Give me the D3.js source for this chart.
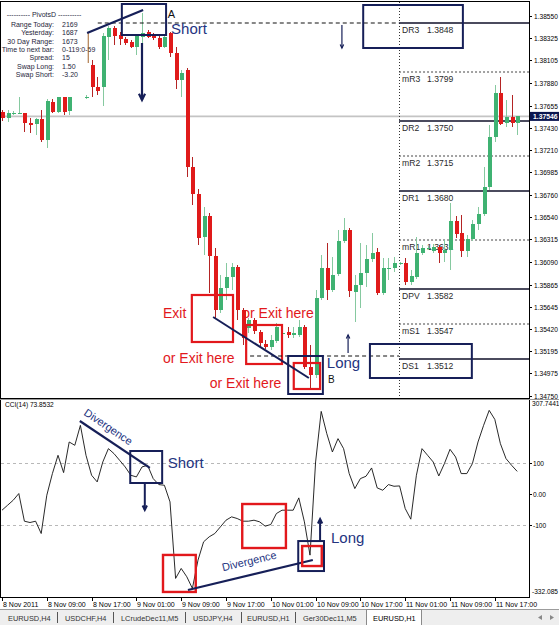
<!DOCTYPE html>
<html>
<head>
<meta charset="utf-8">
<script src="https://cdn.jsdelivr.net/npm/d3@7/dist/d3.min.js"></script>
<style>
  body { margin: 0; background: #fff; }
  svg { display: block; font-family: "Liberation Sans", Arial, sans-serif; }
</style>
</head>
<body>
<div id="chart"></div>
<script>
// EURUSD H1, one row per bar: [open, high, low, close]; null = bar not visible
const ohlc = [
  [1.3759,1.3761,1.3750,1.3753],[1.3753,1.3761,1.3749,1.3758],[1.3758,1.3760,1.3756,1.3758],
  [1.3758,1.3774,1.3757,1.3758],[1.3758,1.3758,1.3739,1.3748],[1.3748,1.3753,1.3738,1.3746],
  [1.3747,1.3753,1.3736,1.3752],[1.3752,1.3761,1.3729,1.3731],[1.3731,1.3772,1.3723,1.3770],
  [1.3769,1.3772,1.3758,1.3759],[1.3759,1.3774,1.3758,1.3774],[1.3774,1.3774,1.3756,1.3759],
  [1.3760,1.3774,1.3756,1.3774],null,null,
  [1.3774,1.3776,1.3772,1.3774],[1.3806,1.3811,1.3774,1.3784],[1.3784,1.3794,1.3776,1.3780],
  [1.3784,1.3838,1.3765,1.3835],[1.3834,1.3845,1.3811,1.3843],[1.3843,1.3845,1.3826,1.3835],
  [1.3836,1.3839,1.3826,1.3832],[1.3832,1.3834,1.3826,1.3828],[1.3829,1.3831,1.3823,1.3824],
  [1.3824,1.3837,1.3816,1.3835],[1.3834,1.3858,1.3828,1.3838],[1.3839,1.3841,1.3833,1.3834],
  [1.3837,1.3838,1.3831,1.3833],[1.3833,1.3835,1.3822,1.3824],[1.3824,1.3836,1.3823,1.3834],
  [1.3838,1.3839,1.3814,1.3818],[1.3818,1.3824,1.3782,1.3791],[1.3791,1.3801,1.3774,1.3798],
  [1.3801,1.3803,1.3694,1.3704],[1.3704,1.3714,1.3666,1.3677],[1.3677,1.3682,1.3626,1.3633],
  [1.3634,1.3664,1.3616,1.3655],[1.3655,1.3658,1.3578,1.3615],[1.3615,1.3623,1.3553,1.3561],
  [1.3561,1.3596,1.3558,1.3583],[1.3583,1.3608,1.3571,1.3594],[1.3594,1.3608,1.3581,1.3604],
  [1.3604,1.3606,1.3551,1.3561],[1.3561,1.3563,1.3526,1.3533],[1.3543,1.3553,1.3538,1.3551],
  [1.3551,1.3553,1.3537,1.3540],[1.3539,1.3541,1.3525,1.3528],[1.3527,1.3531,1.3522,1.3524],
  [1.3524,1.3536,1.3521,1.3531],[1.3530,1.3548,1.3528,1.3544],[1.3538,1.3541,1.3535,1.3538],
  [1.3539,1.3544,1.3533,1.3536],[1.3536,1.3544,1.3533,1.3538],[1.3536,1.3551,1.3534,1.3544],
  [1.3544,1.3546,1.3502,1.3504],[1.3504,1.3526,1.3483,1.3496],[1.3496,1.3581,1.3493,1.3573],
  [1.3573,1.3616,1.3571,1.3603],[1.3603,1.3628,1.3571,1.3581],[1.3581,1.3614,1.3579,1.3596],
  [1.3597,1.3641,1.3595,1.3630],[1.3630,1.3653,1.3628,1.3641],[1.3641,1.3643,1.3574,1.3580],
  [1.3579,1.3596,1.3549,1.3586],[1.3586,1.3628,1.3563,1.3598],[1.3598,1.3626,1.3584,1.3612],
  [1.3612,1.3638,1.3609,1.3618],[1.3619,1.3623,1.3576,1.3578],[1.3578,1.3613,1.3576,1.3603],
  [1.3603,1.3613,1.3591,1.3603],[1.3603,1.3614,1.3599,1.3608],[1.3608,1.3609,1.3606,1.3608],
  [1.3608,1.3613,1.3586,1.3589],[1.3589,1.3601,1.3586,1.3595],[1.3594,1.3634,1.3592,1.3618],
  [1.3618,1.3626,1.3616,1.3623],[1.3623,1.3625,1.3621,1.3623],[1.3620,1.3627,1.3618,1.3624],
  [1.3624,1.3626,1.3608,1.3618],[1.3618,1.3631,1.3609,1.3621],[1.3621,1.3668,1.3601,1.3650],
  [1.3650,1.3655,1.3633,1.3637],[1.3638,1.3656,1.3614,1.3620],[1.3620,1.3636,1.3614,1.3632],
  [1.3632,1.3651,1.3630,1.3647],[1.3647,1.3664,1.3641,1.3657],[1.3657,1.3704,1.3655,1.3684],
  [1.3684,1.3746,1.3681,1.3734],[1.3734,1.3786,1.3729,1.3778],[1.3778,1.3794,1.3746,1.3747],
  [1.3748,1.3771,1.3744,1.3754],[1.3754,1.3776,1.3744,1.3748],[1.3748,1.37555,1.3736,1.37546]
];

// CCI(14), one value per bar
const cci = [
  -51.6,-35.5,-19.4,2.2,-87.1,-91.4,-87.1,-126.9,-3.2,66.7,
  125.8,69.9,168.8,158.1,222.6,125.8,61.3,39.8,104.3,147.3,
  131.2,109.7,88.2,61.3,55.9,88.2,93.5,50.5,31.2,29.0,
  -24.7,-272,-239.8,-266.7,-304.3,-212.9,-153.8,-137.6,-126.9,-105.4,
  -83.9,-73.1,-78.5,-87.1,-87.1,-83.9,-89.2,-103.2,-97.8,-62.4,
  -51.6,-51.6,-51.6,-11.8,-89.2,-196.8,104.3,267.7,195.7,136.6,
  179.6,147.3,66.7,18.3,50.5,58.1,84.9,20.4,12.9,31.2,
  25.8,26.9,-46.2,-80.6,61.3,147.3,125.8,104.3,59.1,98.9,
  145.2,120.4,66.7,66.7,98.9,168.8,222.6,271,241.9,163.4,
  115.1,93.5,73.8532
];

const timeLabels = ["8 Nov 2011","8 Nov 09:00","8 Nov 17:00","9 Nov 01:00","9 Nov 09:00","9 Nov 17:00",
  "10 Nov 01:00","10 Nov 09:00","10 Nov 17:00","11 Nov 01:00","11 Nov 09:00","11 Nov 17:00"];
const priceTicks = ["1.38550","1.38325","1.38105","1.37880","1.37655","1.37430","1.37210","1.36985","1.36760",
  "1.36540","1.36315","1.36090","1.35865","1.35645","1.35420","1.35195","1.34975","1.34750"];
const cciTicks = ["100","0.00","-100"];
const cciRange = [-332.085, 307.7441];
const lastPrice = 1.37546;

const pivotNames = ["DR3","mR3","DR2","mR2","DR1","mR1","DPV","mS1","DS1"];
const pivotValues = [1.3848,1.3799,1.3750,1.3715,1.3680,1.3631,1.3582,1.3547,1.3512];

const infoLabels = ["Range  Today:","Yesterday:","30 Day Range:","Time to next bar:","Spread:","Swap  Long:","Swap  Short:"];
const infoValues = ["2169","1687","1673","0-119:0-59","15","1.50","-3.20"];

const tabNames = ["EURUSD,H4","USDCHF,H4","LCrudeDec11,M5","USDJPY,H4","EURUSD,H1","Ger30Dec11,M5","EURUSD,H1"];

const navy = "#161f58", navyText = "#24347f", red = "#e2181c";

class PivotChart {

	constructor(parentElement) {
		this.parentElement = parentElement;
		this.bars = ohlc.map((d, i) => d ? {i: i, open: d[0], high: d[1], low: d[2], close: d[3]} : null)
			.filter(d => d);
		this.pivotStart = 70.9; // bar position where the daily pivot levels begin
	}

	initVis() {
		let vis = this;
		vis.width = 559;
		vis.height = 625;
		vis.right = 529;

		vis.svg = d3.select("#" + vis.parentElement).append("svg")
			.attr("width", vis.width)
			.attr("height", vis.height);

		vis.x = d3.scaleLinear().domain([0, 92]).range([2, 517.2]);
		vis.yP = d3.scaleLinear().domain([1.3473, 1.3869]).range([398, 2]);
		vis.yC = d3.scaleLinear().domain(cciRange).range([597, 399]);

		vis.svg.append("defs").append("clipPath").attr("id", "clipP")
			.append("rect").attr("x", 1).attr("y", 2).attr("width", vis.right - 1).attr("height", 396);
		vis.svg.select("defs").append("clipPath").attr("id", "clipC")
			.append("rect").attr("x", 1).attr("y", 400).attr("width", vis.right - 1).attr("height", 197);

		vis.drawFrame();
		vis.drawPrice();
		vis.drawPriceNotes();
		vis.drawCCI();
		vis.drawCCINotes();
		vis.drawTabs();
	}

	drawFrame() {
		let vis = this;
		let g = vis.svg.append("g").attr("shape-rendering", "crispEdges");
		g.append("line").attr("x1", 0).attr("x2", vis.right).attr("y1", 1.5).attr("y2", 1.5).attr("stroke", "#000");
		g.append("line").attr("x1", 0.5).attr("x2", 0.5).attr("y1", 1).attr("y2", 598).attr("stroke", "#000");
		g.append("line").attr("x1", vis.right + 0.5).attr("x2", vis.right + 0.5).attr("y1", 1).attr("y2", 598).attr("stroke", "#000");
		g.append("line").attr("x1", 0).attr("x2", vis.right).attr("y1", 398.5).attr("y2", 398.5).attr("stroke", "#000");
		g.append("line").attr("x1", 0).attr("x2", vis.width).attr("y1", 399.5).attr("y2", 399.5).attr("stroke", "#9a9a9a");
		g.append("line").attr("x1", 0).attr("x2", vis.right).attr("y1", 597.5).attr("y2", 597.5).attr("stroke", "#000");

		// time axis
		timeLabels.forEach((t, k) => {
			let px = Math.round(vis.x(k * 8));
			g.append("line").attr("x1", px + 0.5).attr("x2", px + 0.5).attr("y1", 598).attr("y2", 601).attr("stroke", "#000");
			vis.svg.append("text").attr("x", px + 1).attr("y", 607)
				.attr("font-size", 7).attr("fill", "#000").text(t);
		});
	}

	drawPrice() {
		let vis = this;
		let axis = vis.svg.append("g");
		priceTicks.forEach(t => {
			let py = Math.round(vis.yP(+t)) + 0.5;
			axis.append("line").attr("x1", vis.right).attr("x2", vis.right + 3).attr("y1", py).attr("y2", py)
				.attr("stroke", "#000").attr("shape-rendering", "crispEdges");
			axis.append("text").attr("x", vis.right + 5).attr("y", py + 2.5)
				.attr("font-size", 6.6).attr("fill", "#000").text(t);
		});

		let pane = vis.svg.append("g").attr("clip-path", "url(#clipP)");

		// current price line
		pane.append("line").attr("x1", 1).attr("x2", vis.right).attr("y1", vis.yP(lastPrice)).attr("y2", vis.yP(lastPrice))
			.attr("stroke", "#c4c4c4").attr("stroke-width", 1.6);

		// pivot levels
		let px0 = vis.x(vis.pivotStart);
		pane.append("line").attr("x1", Math.round(px0) + 0.5).attr("x2", Math.round(px0) + 0.5).attr("y1", 2).attr("y2", 398)
			.attr("stroke", "#333").attr("stroke-dasharray", "1,2").attr("shape-rendering", "crispEdges");
		pivotNames.forEach((n, k) => {
			let py = vis.yP(pivotValues[k]);
			let minor = n[0] === "m";
			pane.append("line").attr("x1", px0).attr("x2", vis.right).attr("y1", py).attr("y2", py)
				.attr("stroke", minor ? "#444" : "#0f0f28")
				.attr("stroke-width", minor ? 1 : 1.6)
				.attr("stroke-dasharray", minor ? "2,2" : null);
			pane.append("text").attr("x", px0 + 3).attr("y", py + 10).attr("font-size", 8.6).attr("fill", "#2a2a2a").text(n);
			pane.append("text").attr("x", px0 + 28).attr("y", py + 10).attr("font-size", 8.6).attr("fill", "#2a2a2a")
				.text(pivotValues[k].toFixed(4));
		});

		// candles
		let candle = pane.selectAll(".candle").data(vis.bars).enter().append("g")
			.attr("class", "candle").attr("shape-rendering", "crispEdges");
		candle.append("line")
			.attr("x1", d => Math.round(vis.x(d.i)) + 0.5)
			.attr("x2", d => Math.round(vis.x(d.i)) + 0.5)
			.attr("y1", d => vis.yP(d.high))
			.attr("y2", d => vis.yP(d.low))
			.attr("stroke", d => d.close >= d.open ? "#86c9a0" : "#b42424");
		candle.append("rect")
			.attr("x", d => Math.round(vis.x(d.i)) - 1.5)
			.attr("width", 4)
			.attr("y", d => vis.yP(Math.max(d.open, d.close)))
			.attr("height", d => Math.max(1, Math.abs(vis.yP(d.open) - vis.yP(d.close))))
			.attr("fill", d => d.close >= d.open ? "#3fb272" : "#e01a1a");

		// last price tag
		let ly = vis.yP(lastPrice);
		axis.append("rect").attr("x", vis.right + 1).attr("y", ly - 4.5).attr("width", 29).attr("height", 9).attr("fill", "#0b1650");
		axis.append("text").attr("x", vis.right + 4).attr("y", ly + 2.6).attr("font-size", 6.8)
			.attr("font-weight", "bold").attr("fill", "#fff").text(lastPrice.toFixed(5));

		// PivotsD info block
		let info = vis.svg.append("g").attr("fill", "#1e1e3a").attr("font-size", 7);
		info.append("text").attr("x", 44).attr("y", 17).attr("text-anchor", "middle").text("---------- PivotsD ----------");
		infoLabels.forEach((l, k) => {
			info.append("text").attr("x", 54).attr("y", 27 + k * 8.3).attr("text-anchor", "end").text(l);
			info.append("text").attr("x", 62).attr("y", 27 + k * 8.3).text(infoValues[k]);
		});
	}

	box(g, i0, i1, v0, v1, y, color, w) {
		let vis = this;
		g.append("rect")
			.attr("x", vis.x(i0)).attr("y", y(v0))
			.attr("width", vis.x(i1) - vis.x(i0)).attr("height", y(v1) - y(v0))
			.attr("fill", "none").attr("stroke", color).attr("stroke-width", w);
	}

	arrow(g, x1, y1, x2, y2, color, w, head) {
		g.append("line").attr("x1", x1).attr("y1", y1).attr("x2", x2).attr("y2", y2)
			.attr("stroke", color).attr("stroke-width", w);
		let a = Math.atan2(y2 - y1, x2 - x1);
		let p1 = [x2 - head * Math.cos(a - 0.45), y2 - head * Math.sin(a - 0.45)];
		let p2 = [x2 - head * Math.cos(a + 0.45), y2 - head * Math.sin(a + 0.45)];
		g.append("path").attr("d", "M" + p1 + "L" + [x2, y2] + "L" + p2)
			.attr("fill", "none").attr("stroke", color).attr("stroke-width", w);
	}

	label(g, i, v, y, txt, size, color) {
		return g.append("text").attr("x", this.x(i)).attr("y", y(v))
			.attr("font-size", size).attr("fill", color).text(txt);
	}

	drawPriceNotes() {
		let vis = this, y = vis.yP;
		let g = vis.svg.append("g");

		// short setup at A
		g.append("line").attr("x1", vis.x(15.4)).attr("x2", vis.x(15.4)).attr("y1", y(1.3838)).attr("y2", y(1.3808))
			.attr("stroke", "#a0622a");
		g.append("line").attr("x1", vis.x(17.1)).attr("x2", vis.x(vis.pivotStart)).attr("y1", y(1.3848)).attr("y2", y(1.3848))
			.attr("stroke", "#111").attr("stroke-dasharray", "4,3").attr("stroke-width", 1.2);
		vis.box(g, 21.4, 29.3, 1.3867, 1.3836, y, navy, 2);
		g.append("line").attr("x1", vis.x(15.2)).attr("y1", y(1.3838)).attr("x2", vis.x(25.2)).attr("y2", y(1.3861))
			.attr("stroke", navy).attr("stroke-width", 2.2);
		vis.arrow(g, vis.x(25), y(1.3828), vis.x(25), y(1.3771), navy, 2.2, 7);
		vis.label(g, 29.6, 1.3853, y, "A", 11, "#111");
		vis.label(g, 30.2, 1.3837, y, "Short", 15, navyText);

		// DR3 target
		vis.box(g, 64.5, 82.3, 1.3866, 1.3823, y, navy, 2);
		vis.arrow(g, vis.x(60.7), y(1.3846), vis.x(60.7), y(1.3823), navy, 1.2, 4);

		// exits
		vis.box(g, 33.9, 41.25, 1.3576, 1.3529, y, red, 2.2);
		vis.box(g, 43.6, 50, 1.3546, 1.3507, y, red, 2.2);
		g.append("line").attr("x1", vis.x(44.3)).attr("x2", vis.x(vis.pivotStart)).attr("y1", y(1.3515)).attr("y2", y(1.3515))
			.attr("stroke", "#111").attr("stroke-dasharray", "4,3").attr("stroke-width", 1.2);
		vis.box(g, 51.1, 57.3, 1.3515, 1.3477, y, navy, 2);
		vis.box(g, 52.1, 56.8, 1.3508, 1.3482, y, red, 2.2);
		g.append("line").attr("x1", vis.x(37.7)).attr("y1", y(1.3554)).attr("x2", vis.x(54.8)).attr("y2", y(1.3493))
			.attr("stroke", navy).attr("stroke-width", 2);
		vis.label(g, 28.75, 1.3553, y, "Exit", 14, red);
		vis.label(g, 42.9, 1.3553, y, "or Exit here", 14, red);
		vis.label(g, 28.75, 1.3508, y, "or Exit here", 14, red);
		vis.label(g, 37.1, 1.3483, y, "or Exit here", 14, red);

		// long setup at B
		vis.label(g, 58, 1.3503, y, "Long", 15, navyText);
		vis.label(g, 58.2, 1.3488, y, "B", 10, "#111");
		vis.arrow(g, vis.x(61.8), y(1.3518), vis.x(61.8), y(1.3536), navy, 1.2, 4);
		vis.box(g, 65.7, 83.9, 1.3527, 1.3493, y, navy, 2);
	}

	drawCCI() {
		let vis = this;
		let axis = vis.svg.append("g").attr("font-size", 6.6).attr("fill", "#000");
		axis.append("text").attr("x", vis.right + 3).attr("y", 406).text(cciRange[1].toFixed(4));
		axis.append("text").attr("x", vis.right + 3).attr("y", 594).text(cciRange[0].toFixed(3));
		cciTicks.forEach(t => {
			let py = Math.round(vis.yC(+t)) + 0.5;
			axis.append("line").attr("x1", vis.right).attr("x2", vis.right + 3).attr("y1", py).attr("y2", py)
				.attr("stroke", "#000").attr("shape-rendering", "crispEdges");
			axis.append("text").attr("x", vis.right + 4).attr("y", py + 2.5).text(t);
		});

		let pane = vis.svg.append("g").attr("clip-path", "url(#clipC)");
		[100, -100].forEach(v => {
			pane.append("line").attr("x1", 1).attr("x2", vis.right).attr("y1", Math.round(vis.yC(v)) + 0.5).attr("y2", Math.round(vis.yC(v)) + 0.5)
				.attr("stroke", "#b8b8b8").attr("stroke-dasharray", "3,3").attr("shape-rendering", "crispEdges");
		});

		let line = d3.line().x((d, i) => vis.x(i)).y(d => vis.yC(d));
		pane.append("path").datum(cci).attr("d", line).attr("fill", "none").attr("stroke", "#111").attr("stroke-width", 0.9);

		vis.svg.append("text").attr("x", 5).attr("y", 407).attr("font-size", 6.6).attr("fill", "#000")
			.text("CCI(14) " + cci[cci.length - 1].toFixed(4));
	}

	drawCCINotes() {
		let vis = this, y = vis.yC;
		let g = vis.svg.append("g");

		g.append("line").attr("x1", vis.x(13.9)).attr("y1", y(236.6)).attr("x2", vis.x(26.4)).attr("y2", y(85.1))
			.attr("stroke", navy).attr("stroke-width", 2.2);
		g.append("text").attr("font-size", 11).attr("fill", navyText).attr("text-anchor", "middle")
			.attr("transform", "translate(" + vis.x(18.6) + "," + y(207.6) + ") rotate(34)").text("Divergence");
		vis.box(g, 22.9, 28.6, 139.7, 36.3, y, navy, 2);
		vis.label(g, 29.6, 84.9, y, "Short", 15, navyText);
		vis.arrow(g, vis.x(25.5), y(36.3), vis.x(25.5), y(-51), navy, 2, 5);

		vis.box(g, 28.75, 34.6, -196.2, -315.8, y, red, 2.4);
		g.append("line").attr("x1", vis.x(33.2)).attr("y1", y(-309.4)).attr("x2", vis.x(55.5)).attr("y2", y(-212.4))
			.attr("stroke", navy).attr("stroke-width", 2.2);
		g.append("text").attr("font-size", 11).attr("fill", navyText).attr("text-anchor", "middle")
			.attr("transform", "translate(" + vis.x(44.3) + "," + y(-228) + ") rotate(-13.5)").text("Divergence");

		vis.box(g, 42.9, 50.7, -31.6, -173.8, y, red, 2.4);
		vis.box(g, 52.9, 57.5, -151.3, -248.2, y, navy, 2);
		vis.box(g, 53.6, 57.1, -167.4, -232, y, red, 2.4);
		vis.arrow(g, vis.x(56.8), y(-151.3), vis.x(56.8), y(-80.2), navy, 2, 5);
		vis.label(g, 58.75, -157.7, y, "Long", 15, navyText);
	}

	drawTabs() {
		let vis = this;
		let g = vis.svg.append("g");
		g.append("rect").attr("x", 0).attr("y", 609).attr("width", vis.width).attr("height", 16).attr("fill", "#eeeeee");
		g.append("line").attr("x1", 0).attr("x2", vis.width).attr("y1", 609.5).attr("y2", 609.5).attr("stroke", "#9c9c9c");
		g.append("rect").attr("x", 366.5).attr("y", 609.5).attr("width", 55).attr("height", 16)
			.attr("fill", "#fff").attr("stroke", "#8a8a8a");

		let tabX = [8, 65, 121, 193, 247, 303, 373];
		let sepX = [57, 113, 185, 241, 295];
		tabNames.forEach((t, k) => {
			g.append("text").attr("x", tabX[k]).attr("y", 620.5).attr("font-size", 7.4)
				.attr("fill", k === tabNames.length - 1 ? "#000" : "#333").text(t);
		});
		sepX.forEach(s => {
			g.append("line").attr("x1", s + 0.5).attr("x2", s + 0.5).attr("y1", 612).attr("y2", 623)
				.attr("stroke", "#555").attr("shape-rendering", "crispEdges");
		});
		g.append("path").attr("d", "M538,617.5L542,615L542,620Z").attr("fill", "#888");
		g.append("path").attr("d", "M554,617.5L550,615L550,620Z").attr("fill", "#888");
	}
}

let chart = new PivotChart("chart");
chart.initVis();
</script>
</body>
</html>
